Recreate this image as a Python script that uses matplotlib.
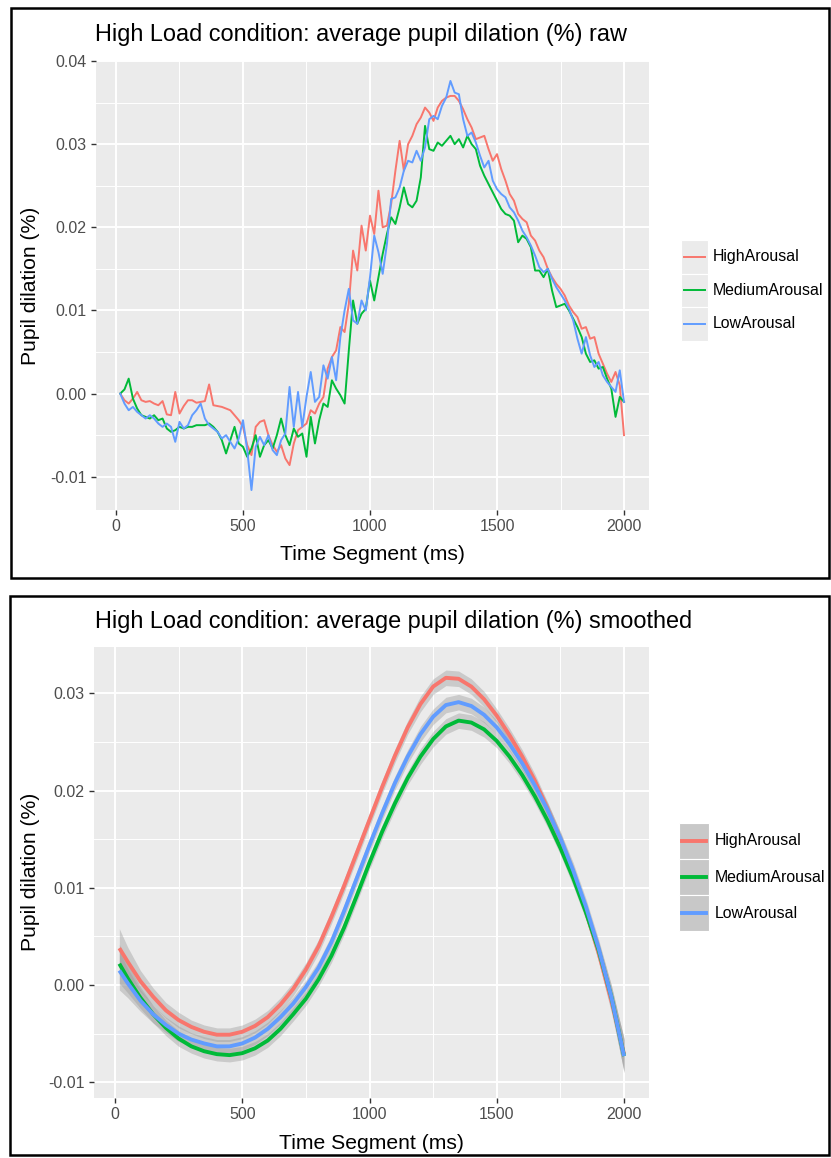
import numpy as np
import matplotlib
matplotlib.use("Agg")
import matplotlib.pyplot as plt
from matplotlib.patches import Rectangle
from matplotlib.lines import Line2D

plt.rcParams['font.family'] = ['Liberation Sans', 'DejaVu Sans']

W, H = 831, 1158

groups = ["HighArousal", "MediumArousal", "LowArousal"]
colors = ["#F8766D", "#00BA38", "#619CFF"]

# raw data: 120 time segments (1/60 s each)
time_raw = np.arange(1, 121) * 2000 / 120

high_raw = [0.0, -0.0008, -0.0012, -0.0006, 0.0002, -0.0008, -0.0010, -0.0009, -0.0012, -0.0014,
            -0.0009, -0.0025, -0.0026, 0.0002, -0.0024, -0.0015, -0.0008, -0.0008, -0.0011, -0.0010,
            -0.0009, 0.0011, -0.0014, -0.0015, -0.0016, -0.0018, -0.0020, -0.0026, -0.0032, -0.0040,
            -0.0062, -0.0074, -0.0040, -0.0034, -0.0032, -0.0050, -0.0062, -0.0070, -0.0062, -0.0078,
            -0.0086, -0.0060, -0.0044, -0.0040, -0.0036, -0.0020, -0.0024, -0.0012, -0.0004, 0.0030,
            0.0044, 0.0052, 0.0080, 0.0074, 0.0108, 0.0172, 0.0148, 0.0202, 0.0172, 0.0214,
            0.0192, 0.0244, 0.0200, 0.0202, 0.0228, 0.0268, 0.0304, 0.0268, 0.0300, 0.0310,
            0.0324, 0.0332, 0.0344, 0.0338, 0.0328, 0.0344, 0.0352, 0.0356, 0.0358, 0.0358,
            0.0352, 0.0342, 0.0330, 0.0320, 0.0306, 0.0308, 0.0310, 0.0294, 0.0280, 0.0288,
            0.0270, 0.0256, 0.0240, 0.0232, 0.0216, 0.0210, 0.0206, 0.0190, 0.0184, 0.0172,
            0.0164, 0.0150, 0.0140, 0.0132, 0.0126, 0.0118, 0.0106, 0.0098, 0.0092, 0.0078,
            0.0080, 0.0066, 0.0068, 0.0048, 0.0036, 0.0024, 0.0014, 0.0026, 0.0010, -0.0050]

medium_raw = [0.0, 0.0005, 0.0018, -0.0006, -0.0018, -0.0026, -0.0028, -0.0030, -0.0026, -0.0032,
              -0.0030, -0.0042, -0.0046, -0.0044, -0.0040, -0.0042, -0.0040, -0.0040, -0.0038, -0.0038,
              -0.0038, -0.0036, -0.0040, -0.0046, -0.0056, -0.0072, -0.0056, -0.0040, -0.0060, -0.0064,
              -0.0076, -0.0066, -0.0050, -0.0076, -0.0062, -0.0056, -0.0066, -0.0050, -0.0030, -0.0050,
              -0.0062, -0.0042, -0.0052, -0.0048, -0.0076, -0.0028, -0.0060, -0.0032, -0.0012, -0.0016,
              0.0016, 0.0006, -0.0002, -0.0012, 0.0052, 0.0112, 0.0084, 0.0096, 0.0102, 0.0136,
              0.0112, 0.0140, 0.0168, 0.0192, 0.0212, 0.0204, 0.0224, 0.0248, 0.0228, 0.0224,
              0.0232, 0.0260, 0.0322, 0.0294, 0.0292, 0.0302, 0.0298, 0.0304, 0.0310, 0.0300,
              0.0306, 0.0296, 0.0310, 0.0300, 0.0294, 0.0274, 0.0262, 0.0252, 0.0242, 0.0232,
              0.0222, 0.0216, 0.0214, 0.0208, 0.0182, 0.0190, 0.0186, 0.0176, 0.0148, 0.0148,
              0.0140, 0.0150, 0.0124, 0.0104, 0.0106, 0.0108, 0.0100, 0.0090, 0.0080, 0.0068,
              0.0048, 0.0038, 0.0040, 0.0030, 0.0032, 0.0018, 0.0006, -0.0028, -0.0004, -0.0010]

low_raw = [0.0, -0.0012, -0.0020, -0.0016, -0.0022, -0.0026, -0.0030, -0.0026, -0.0030, -0.0036,
           -0.0040, -0.0036, -0.0040, -0.0058, -0.0034, -0.0042, -0.0038, -0.0026, -0.0020, -0.0012,
           -0.0030, -0.0038, -0.0042, -0.0046, -0.0054, -0.0050, -0.0058, -0.0066, -0.0054, -0.0032,
           -0.0068, -0.0116, -0.0064, -0.0052, -0.0062, -0.0050, -0.0068, -0.0074, -0.0056, -0.0048,
           0.0008, -0.0040, 0.0002, -0.0040, -0.0004, 0.0026, -0.0010, -0.0004, 0.0034, 0.0018,
           0.0044, 0.0016, 0.0068, 0.0100, 0.0126, 0.0088, 0.0084, 0.0112, 0.0100, 0.0140,
           0.0190, 0.0170, 0.0144, 0.0180, 0.0234, 0.0236, 0.0248, 0.0268, 0.0280, 0.0278,
           0.0292, 0.0280, 0.0296, 0.0330, 0.0334, 0.0330, 0.0346, 0.0356, 0.0376, 0.0362,
           0.0360, 0.0330, 0.0310, 0.0314, 0.0302, 0.0286, 0.0272, 0.0280, 0.0256, 0.0246,
           0.0240, 0.0236, 0.0224, 0.0218, 0.0208, 0.0196, 0.0188, 0.0178, 0.0166, 0.0152,
           0.0146, 0.0150, 0.0138, 0.0128, 0.0120, 0.0112, 0.0102, 0.0088, 0.0066, 0.0048,
           0.0068, 0.0046, 0.0032, 0.0038, 0.0022, 0.0014, 0.0008, 0.0002, 0.0028, -0.0010]

# smoothed fits
time_smooth = [17, 50, 100, 150, 200, 250, 300, 350, 400, 450, 500, 550, 600, 650, 700,
               750, 800, 850, 900, 950, 1000, 1050, 1100, 1150, 1200, 1250, 1300, 1350, 1400,
               1450, 1500, 1550, 1600, 1650, 1700, 1750, 1800, 1850, 1900, 1950, 2000]

high_smooth = [0.0038, 0.0024, 0.0004, -0.0012, -0.0026, -0.0036, -0.0043, -0.0048, -0.0051, -0.0051,
               -0.0048, -0.0042, -0.0033, -0.0020, -0.0004, 0.0016, 0.0040, 0.0070, 0.0102, 0.0136,
               0.0170, 0.0204, 0.0236, 0.0265, 0.0289, 0.0307, 0.0316, 0.0315, 0.0307, 0.0294,
               0.0277, 0.0257, 0.0235, 0.0210, 0.0181, 0.0150, 0.0115, 0.0076, 0.0033, -0.0016, -0.0071]

medium_smooth = [0.0022, 0.0007, -0.0013, -0.0030, -0.0044, -0.0055, -0.0063, -0.0068, -0.0071, -0.0072,
                 -0.0070, -0.0065, -0.0057, -0.0045, -0.0030, -0.0014, 0.0006, 0.0030, 0.0059, 0.0092,
                 0.0126, 0.0158, 0.0187, 0.0213, 0.0235, 0.0253, 0.0266, 0.0272, 0.0270, 0.0263,
                 0.0251, 0.0235, 0.0216, 0.0194, 0.0169, 0.0141, 0.0110, 0.0075, 0.0036, -0.0012, -0.0073]

low_smooth = [0.0015, 0.0002, -0.0016, -0.0030, -0.0041, -0.0050, -0.0056, -0.0060, -0.0063, -0.0063,
              -0.0060, -0.0054, -0.0045, -0.0033, -0.0019, -0.0002, 0.0018, 0.0044, 0.0076, 0.0110,
              0.0144, 0.0177, 0.0208, 0.0235, 0.0258, 0.0276, 0.0288, 0.0291, 0.0287, 0.0278,
              0.0265, 0.0248, 0.0228, 0.0205, 0.0180, 0.0151, 0.0118, 0.0081, 0.0038, -0.0012, -0.0073]

# half-width of the grey confidence band
band = [0.0020, 0.0015, 0.0011, 0.0009, 0.0008, 0.0008, 0.0007, 0.0007, 0.0007, 0.0007,
        0.0007, 0.0007, 0.0007, 0.0007, 0.0007, 0.0007, 0.0007, 0.0007, 0.0007, 0.0007,
        0.0007, 0.0007, 0.0007, 0.0007, 0.0008, 0.0008, 0.0008, 0.0008, 0.0008, 0.0008,
        0.0007, 0.0007, 0.0007, 0.0007, 0.0007, 0.0007, 0.0008, 0.0008, 0.0009, 0.0012, 0.0017]

raw_series = [high_raw, medium_raw, low_raw]
smooth_series = [high_smooth, medium_smooth, low_smooth]

x_ticks = [0, 500, 1000, 1500, 2000]
x_minor = [250, 750, 1250, 1750]


def fx(x):
    return x / W


def fy(y):
    return 1 - y / H


def panel_axes(left, top, right, bottom):
    return fig.add_axes([fx(left), fy(bottom), (right - left) / W, (bottom - top) / H])


def style(ax, xlim, ylim, yticks, ylabels, yminor):
    ax.set_facecolor('#EBEBEB')
    for s in ax.spines.values():
        s.set_visible(False)
    ax.set_xlim(xlim)
    ax.set_ylim(ylim)
    ax.set_xticks(x_ticks)
    ax.set_xticklabels([str(t) for t in x_ticks])
    ax.set_xticks(x_minor, minor=True)
    ax.set_yticks(yticks)
    ax.set_yticklabels(ylabels)
    ax.set_yticks(yminor, minor=True)
    ax.grid(which='major', color='white', lw=1.4)
    ax.grid(which='minor', color='white', lw=0.7)
    ax.set_axisbelow(True)
    ax.tick_params(which='major', length=3.6, width=1.0, color='#333333',
                   labelsize=11.5, labelcolor='#4D4D4D', pad=3)
    ax.tick_params(which='minor', length=0)


def legend(centers, x0, kw, kh, fill, lw, text_x):
    for name, col, cy in zip(groups, colors, centers):
        fig.add_artist(Rectangle((fx(x0), fy(cy + kh / 2)), kw / W, kh / H,
                                 transform=fig.transFigure, facecolor=fill,
                                 edgecolor='white', lw=0.8))
        fig.add_artist(Line2D([fx(x0 + 3), fx(x0 + kw - 3)], [fy(cy), fy(cy)],
                              transform=fig.transFigure, color=col, lw=lw))
        fig.text(fx(text_x), fy(cy), name, fontsize=11.4, va='center', ha='left')


def frame(left, top, right, bottom):
    fig.add_artist(Rectangle((fx(left), fy(bottom)), (right - left) / W, (bottom - top) / H,
                             transform=fig.transFigure, fill=False, edgecolor='black', lw=1.8))


fig = plt.figure(figsize=(W / 100, H / 100), dpi=100)

# ---- upper chart: raw
ax1 = panel_axes(96, 61, 649, 510)
style(ax1, (-78.7, 2098.4), (-0.0140, 0.03988),
      [-0.01, 0.0, 0.01, 0.02, 0.03, 0.04], ['-0.01', '0.00', '0.01', '0.02', '0.03', '0.04'],
      [-0.005, 0.005, 0.015, 0.025, 0.035])
for vals, col in zip(raw_series, colors):
    ax1.plot(time_raw, vals, color=col, lw=1.4)

fig.text(fx(95), fy(41), "High Load condition: average pupil dilation (%) raw",
         fontsize=16.9, va='baseline', ha='left')
fig.text(fx(372.5), fy(560), "Time Segment (ms)", fontsize=15.2, va='baseline', ha='center')
fig.text(fx(31), fy(285.5), "Pupil dilation (%)", fontsize=15.2, va='center', ha='center',
         rotation=90)
legend([257, 290.5, 324], 681, 27, 33.5, '#EBEBEB', 1.4, 713)
frame(11, 8, 829, 578)

# ---- lower chart: smoothed
ax2 = panel_axes(94, 647, 649, 1098)
style(ax2, (-82.5, 2098), (-0.01161, 0.03477),
      [-0.01, 0.0, 0.01, 0.02, 0.03], ['-0.01', '0.00', '0.01', '0.02', '0.03'],
      [-0.005, 0.005, 0.015, 0.025])
b = np.array(band)
for vals, col in zip(smooth_series, colors):
    v = np.array(vals)
    ax2.fill_between(time_smooth, v - b, v + b, color='#999999', alpha=0.4, lw=0)
    ax2.plot(time_smooth, v, color=col, lw=2.8, solid_capstyle='butt')

fig.text(fx(95), fy(628), "High Load condition: average pupil dilation (%) smoothed",
         fontsize=16.9, va='baseline', ha='left')
fig.text(fx(371.5), fy(1149), "Time Segment (ms)", fontsize=15.2, va='baseline', ha='center')
fig.text(fx(31), fy(872), "Pupil dilation (%)", fontsize=15.2, va='center', ha='center',
         rotation=90)
legend([841, 877, 913], 679, 30, 36, '#C8C8C8', 2.8, 715)
frame(10, 596, 829, 1155)

fig.savefig("out.png", dpi=100)
